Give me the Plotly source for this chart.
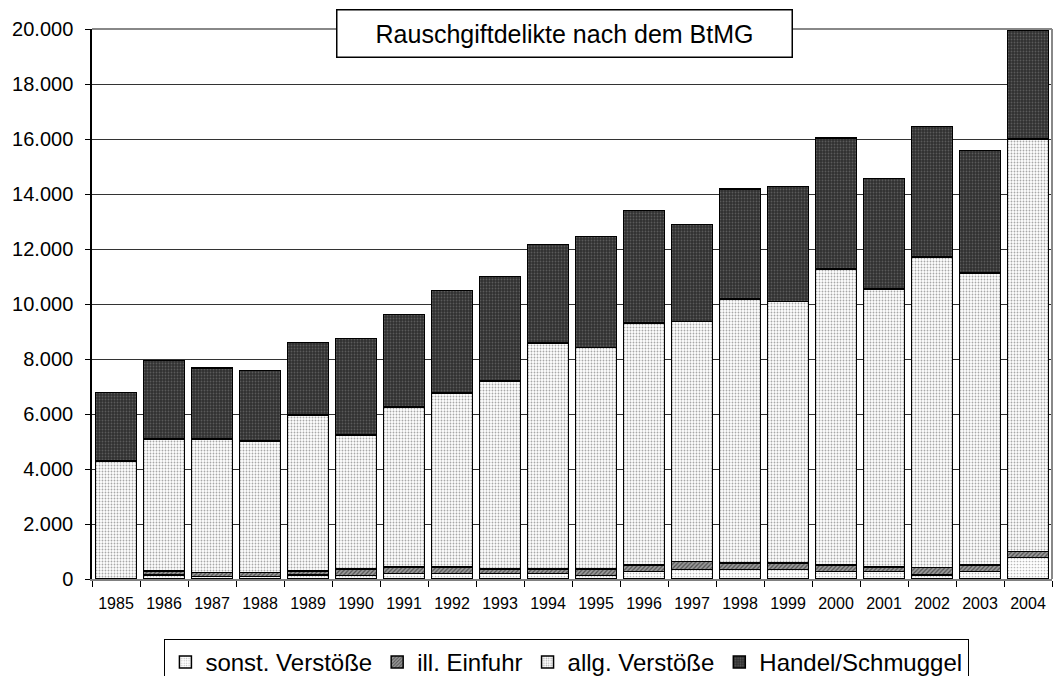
import plotly.graph_objects as go

years = [str(y) for y in range(1985, 2005)]

sonst = [0, 150, 90, 90, 150, 130, 200, 200, 200, 200, 120, 270, 340, 340, 340, 270, 270, 150, 270, 780]
einfuhr = [0, 150, 140, 140, 150, 240, 240, 240, 170, 170, 250, 240, 290, 250, 250, 240, 170, 270, 240, 220]
allg = [4290, 4790, 4860, 4790, 5660, 4870, 5810, 6320, 6830, 8210, 8050, 8800, 8730, 9590, 9500, 10760, 10100, 11290, 10620, 15000]
handel = [2500, 2860, 2580, 2570, 2640, 3510, 3360, 3730, 3800, 3590, 4040, 4090, 3530, 4010, 4190, 4770, 4020, 4750, 4450, 3940]

series_names = ["sonst. Verstöße", "ill. Einfuhr", "allg. Verstöße", "Handel/Schmuggel"]
y_ticks = [0, 2000, 4000, 6000, 8000, 10000, 12000, 14000, 16000, 18000, 20000]
title_text = "Rauschgiftdelikte nach dem BtMG"

FONT = "Liberation Sans, Arial, sans-serif"

styles = [
    dict(shape=".", fgcolor="#b8b8b8", bgcolor="#ffffff", size=3, solidity=0.25),
    dict(shape="/", fgcolor="#505050", bgcolor="#9a9a9a", size=3, solidity=0.4),
    dict(shape=".", fgcolor="#a8a8a8", bgcolor="#ffffff", size=3, solidity=0.3),
    dict(shape=".", fgcolor="#5a5a5a", bgcolor="#303030", size=3, solidity=0.3),
]

fig = go.Figure()
for name, vals, st in zip(series_names, [sonst, einfuhr, allg, handel], styles):
    fig.add_trace(go.Bar(
        x=years, y=vals, name=name,
        marker=dict(
            color=st["bgcolor"],
            line=dict(color="#000000", width=1.5),
            pattern=dict(shape=st["shape"], fgcolor=st["fgcolor"], bgcolor=st["bgcolor"],
                         size=st["size"], solidity=st["solidity"], fillmode="replace"),
        ),
    ))

fig.update_layout(
    barmode="stack",
    bargap=0.15,
    width=1054, height=676,
    margin=dict(l=92, r=2, t=29, b=97, autoexpand=False),
    paper_bgcolor="white",
    plot_bgcolor="white",
    separators=",.",
    font=dict(family=FONT, color="#000000"),
    showlegend=True,
    legend=dict(
        orientation="h",
        x=0.4945, xanchor="center",
        y=-0.1085, yanchor="top",
        traceorder="normal",
        bordercolor="#000000", borderwidth=1.2,
        bgcolor="white",
        font=dict(size=24, family=FONT),
        itemclick=False,
    ),
    xaxis=dict(
        type="category",
        showline=True, linecolor="#808080", linewidth=1.5,
        ticks="outside", tickson="boundaries", ticklen=6, tickcolor="#000000", tickwidth=1,
        tickfont=dict(size=16, family=FONT),
        ticklabelstandoff=9,
        showgrid=False,
    ),
    yaxis=dict(
        range=[0, 20000],
        tickvals=y_ticks,
        tickformat=",d",
        showline=True, linecolor="#000000", linewidth=1.5,
        ticks="outside", ticklen=5, tickcolor="#000000",
        showgrid=True, gridcolor="#333333", gridwidth=1,
        tickfont=dict(size=20, family=FONT),
        ticklabelstandoff=8,
        zeroline=False,
    ),
    shapes=[
        dict(type="line", xref="paper", yref="paper", x0=0, x1=1, y0=1, y1=1,
             line=dict(color="#888888", width=2), layer="above"),
        dict(type="line", xref="paper", yref="paper", x0=1, x1=1, y0=0, y1=1,
             line=dict(color="#888888", width=2), layer="above"),
    ],
    annotations=[
        dict(
            text=title_text, xref="paper", yref="paper",
            x=0.4917, y=0.9915, xanchor="center", yanchor="middle",
            showarrow=False,
            font=dict(size=25, family=FONT, color="#000000"),
            bgcolor="white", bordercolor="#000000", borderwidth=1.5, borderpad=1,
            width=452, height=44, align="center",
        )
    ],
)

fig.write_html(
    "out.html",
    config={"displayModeBar": False},
    post_script="document.body.style.margin='0';document.body.style.overflow='hidden';",
)
